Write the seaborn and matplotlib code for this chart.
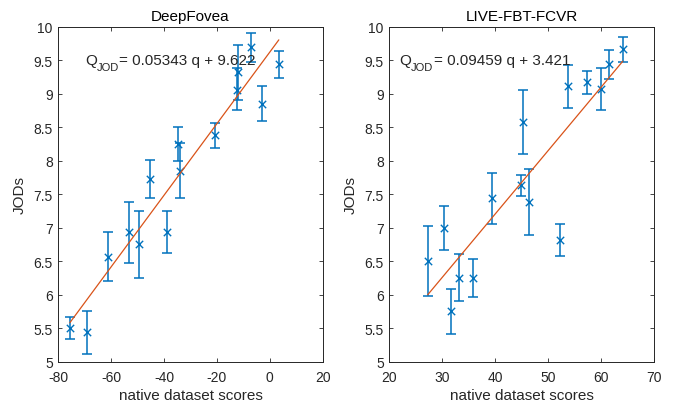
import numpy as np
import pandas as pd
import seaborn as sns
import matplotlib
matplotlib.use("Agg")
import matplotlib.pyplot as plt
from matplotlib.ticker import FormatStrFormatter, MultipleLocator

# DeepFovea: native score, JOD, lower/upper error bar ends
df_x = [-75.6, -69.1, -61.1, -53.4, -49.4, -45.4, -39.0, -34.8, -33.8, -20.9, -12.5, -12.1, -7.1, -2.9, 3.4]
df_y = [5.50, 5.44, 6.56, 6.94, 6.75, 7.73, 6.94, 8.25, 7.85, 8.38, 9.06, 9.32, 9.69, 8.85, 9.44]
df_lo = [5.34, 5.12, 6.21, 6.48, 6.25, 7.45, 6.62, 8.00, 7.45, 8.19, 8.75, 8.90, 9.48, 8.59, 9.24]
df_hi = [5.66, 5.75, 6.93, 7.39, 7.25, 8.01, 7.25, 8.50, 8.26, 8.56, 9.38, 9.72, 9.90, 9.11, 9.64]
df_fit = (0.05343, 9.622)

# LIVE-FBT-FCVR
lv_x = [27.25, 30.3, 31.6, 33.2, 35.9, 39.4, 44.9, 45.2, 46.4, 52.3, 53.7, 57.3, 59.9, 61.6, 64.1]
lv_y = [6.50, 7.00, 5.75, 6.25, 6.25, 7.45, 7.63, 8.58, 7.38, 6.82, 9.11, 9.17, 9.07, 9.44, 9.67]
lv_lo = [5.98, 6.67, 5.42, 5.90, 5.97, 7.06, 7.47, 8.10, 6.89, 6.58, 8.79, 8.99, 8.75, 9.22, 9.48]
lv_hi = [7.03, 7.33, 6.08, 6.60, 6.53, 7.82, 7.78, 9.06, 7.87, 7.05, 9.43, 9.34, 9.39, 9.66, 9.85]
lv_fit = (0.09459, 3.421)

BLUE = "#0072BD"
ORANGE = "#D95319"
AXC = "#262626"

sns.set_style("ticks")
plt.rcParams["font.family"] = ["Liberation Sans", "DejaVu Sans"]

fig = plt.figure(figsize=(6.73, 4.06), dpi=100)
ax1 = fig.add_axes([0.0866, 0.1067, 0.3929, 0.825])
ax2 = fig.add_axes([0.5785, 0.1067, 0.3932, 0.825])


def equation(ax, x, y, fit):
    # MATLAB-style Q_{JOD} with a low subscript
    t1 = ax.text(x, y, "Q", fontsize=11, va="center", ha="left")
    t2 = ax.annotate("JOD", xy=(1, 0), xycoords=t1, xytext=(0, 3.5),
                     textcoords="offset points", fontsize=8, va="top", ha="left")
    ax.annotate(f"= {fit[0]:.5f} q + {fit[1]:.3f}", xy=(1, 0), xycoords=(t2, t1),
                fontsize=11, va="bottom", ha="left")


def panel(ax, x, y, lo, hi, fit, title, xlim, txt_x):
    d = pd.DataFrame({"q": x, "jod": y, "lo": lo, "hi": hi})
    yerr = np.vstack([d["jod"] - d["lo"], d["hi"] - d["jod"]])
    ax.errorbar(d["q"], d["jod"], yerr=yerr, fmt="none", ecolor=BLUE,
                elinewidth=1.1, capsize=3.6, capthick=1.1, zorder=2)
    sns.scatterplot(data=d, x="q", y="jod", marker="x", color=BLUE, s=28,
                    linewidth=1.0, ax=ax, zorder=3)
    xs = np.array([d["q"].min(), d["q"].max()])
    line = pd.DataFrame({"q": xs, "jod": fit[0] * xs + fit[1]})
    sns.lineplot(data=line, x="q", y="jod", color=ORANGE, linewidth=0.9, ax=ax, zorder=4)
    equation(ax, txt_x, 9.5, fit)
    ax.set_xlim(*xlim)
    ax.set_ylim(5, 10)
    ax.xaxis.set_major_locator(MultipleLocator(20 if xlim[0] < 0 else 10))
    ax.yaxis.set_major_locator(MultipleLocator(0.5))
    ax.yaxis.set_major_formatter(FormatStrFormatter("%g"))
    ax.xaxis.set_major_formatter(FormatStrFormatter("%g"))
    ax.tick_params(direction="in", length=3, width=0.6, top=True, right=True,
                   labelsize=10, colors=AXC, pad=4)
    ax.tick_params(axis="x", pad=6)
    for s in ax.spines.values():
        s.set_visible(True)
        s.set_color(AXC)
        s.set_linewidth(0.7)
    ax.set_title(title, fontsize=11, color="black", pad=5)
    ax.set_xlabel("native dataset scores", fontsize=11, color=AXC, labelpad=3)
    ax.set_ylabel("JODs", fontsize=11, color=AXC, labelpad=5)


panel(ax1, df_x, df_y, df_lo, df_hi, df_fit, "DeepFovea", (-80, 20), -69.9)
panel(ax2, lv_x, lv_y, lv_lo, lv_hi, lv_fit, "LIVE-FBT-FCVR", (20, 70), 21.9)

fig.savefig("out.png", dpi=100)
